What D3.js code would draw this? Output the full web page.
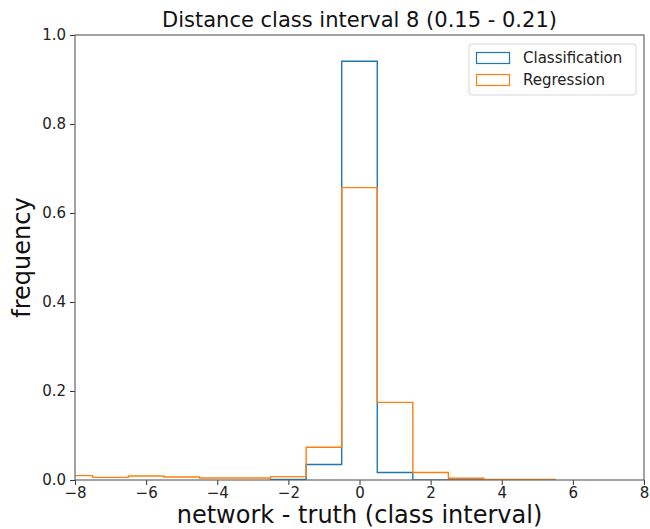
<!DOCTYPE html>
<html>
<head>
<meta charset="utf-8">
<script src="https://cdn.jsdelivr.net/npm/d3@7"></script>
<style>
  html, body { margin: 0; padding: 0; background: #fff; }
  svg { display: block; font-family: "DejaVu Sans", sans-serif; }
</style>
</head>
<body>
<svg id="chart" width="650" height="529"></svg>
<script>
// Bin centres (unit-width bins) for each series
const regressionCenters = [-8, -7, -6, -5, -4, -3, -2, -1, 0, 1, 2, 3, 4, 5];
const regressionFreq    = [0.0098, 0.006, 0.009, 0.0068, 0.0045, 0.0045, 0.0075, 0.0735, 0.657, 0.1745, 0.017, 0.0038, 0.0015, 0.0015];

const classificationCenters = [-2, -1, 0, 1, 2, 3, 4, 5];
const classificationFreq    = [0.001, 0.035, 0.941, 0.017, 0, 0, 0, 0];

const xTicks = [-8, -6, -4, -2, 0, 2, 4, 6, 8];
const yTicks = [0.0, 0.2, 0.4, 0.6, 0.8, 1.0];

const seriesNames  = ["Classification", "Regression"];
const seriesColors = ["#1f77b4", "#ff7f0e"];

const svg = d3.select("#chart");
const margin = { left: 75, right: 6, top: 35, bottom: 49 };
const W = 650, H = 529;
const x = d3.scaleLinear().domain([-8, 8]).range([margin.left, W - margin.right]);
const y = d3.scaleLinear().domain([0, 1]).range([H - margin.bottom, margin.top]);

svg.append("defs").append("clipPath").attr("id", "plotClip")
  .append("rect")
  .attr("x", x(-8)).attr("y", y(1))
  .attr("width", x(8) - x(-8)).attr("height", y(0) - y(1));

// Step outline of a histogram: up from the baseline, across each bin, back down
function stepPoints(centers, freqs) {
  const pts = [[centers[0] - 0.5, 0]];
  centers.forEach((c, i) => {
    pts.push([c - 0.5, freqs[i]]);
    pts.push([c + 0.5, freqs[i]]);
  });
  pts.push([centers[centers.length - 1] + 0.5, 0]);
  return pts;
}

const line = d3.line().x(d => x(d[0])).y(d => y(d[1]));
const plot = svg.append("g").attr("clip-path", "url(#plotClip)");

plot.append("path")
  .attr("d", line(stepPoints(classificationCenters, classificationFreq)))
  .attr("fill", "none").attr("stroke", seriesColors[0]).attr("stroke-width", 1.4);
plot.append("path")
  .attr("d", line(stepPoints(regressionCenters, regressionFreq)))
  .attr("fill", "none").attr("stroke", seriesColors[1]).attr("stroke-width", 1.4);

// Axes
const xAxis = svg.append("g").attr("transform", `translate(0,${y(0)})`)
  .call(d3.axisBottom(x).tickValues(xTicks).tickSize(5).tickPadding(2).tickFormat(d3.format("d")));
const yAxis = svg.append("g").attr("transform", `translate(${x(-8)},0)`)
  .call(d3.axisLeft(y).tickValues(yTicks).tickSize(5).tickPadding(4).tickFormat(d3.format(".1f")));
[xAxis, yAxis].forEach(g => {
  g.select(".domain").remove();
  g.selectAll(".tick line").attr("stroke", "#333").attr("stroke-width", 1);
  g.selectAll(".tick text").attr("fill", "#222").style("font-size", "15px")
    .style("font-family", "'DejaVu Sans', sans-serif");
});

// Frame
svg.append("rect")
  .attr("x", x(-8)).attr("y", y(1))
  .attr("width", x(8) - x(-8)).attr("height", y(0) - y(1))
  .attr("fill", "none").attr("stroke", "#666").attr("stroke-width", 1.2);

// Titles
svg.append("text").attr("x", (x(-8) + x(8)) / 2).attr("y", 27)
  .attr("text-anchor", "middle").style("font-size", "21px").attr("fill", "#111")
  .text("Distance class interval 8 (0.15 - 0.21)");
svg.append("text").attr("x", (x(-8) + x(8)) / 2).attr("y", 523)
  .attr("text-anchor", "middle").style("font-size", "24px").attr("fill", "#111")
  .text("network - truth (class interval)");
svg.append("text")
  .attr("transform", `translate(30,${(y(0) + y(1)) / 2}) rotate(-90)`)
  .attr("text-anchor", "middle").style("font-size", "24px").attr("fill", "#111")
  .text("frequency");

// Legend
const lg = svg.append("g").attr("transform", "translate(469,44)");
lg.append("rect").attr("width", 167).attr("height", 51).attr("rx", 3)
  .attr("fill", "#fff").attr("fill-opacity", 0.8).attr("stroke", "#d6d6d6");
seriesNames.forEach((name, i) => {
  const row = lg.append("g").attr("transform", `translate(0,${8 + i * 22})`);
  row.append("rect").attr("x", 7.5).attr("y", 0.5).attr("width", 33).attr("height", 11)
    .attr("fill", "none").attr("stroke", seriesColors[i]).attr("stroke-width", 1.2);
  row.append("text").attr("x", 54).attr("y", 11).style("font-size", "15px")
    .attr("fill", "#222").text(name);
});
</script>
</body>
</html>
